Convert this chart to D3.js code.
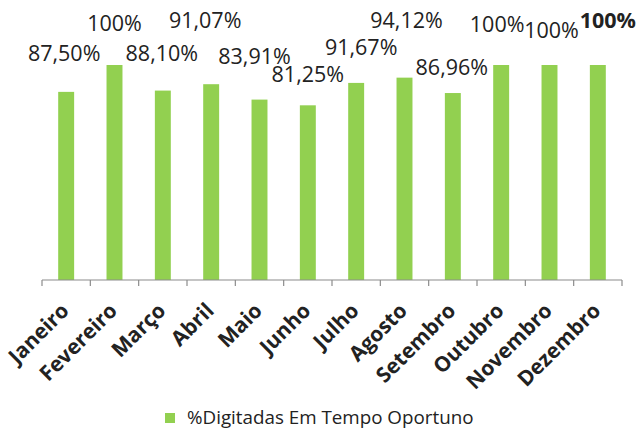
<!DOCTYPE html>
<html>
<head>
<meta charset="utf-8">
<script src="https://cdn.jsdelivr.net/npm/d3@7"></script>
<style>
  body { margin: 0; background: #fff; }
  text { font-family: "Open Sans", "Noto Sans", sans-serif; fill: #222; }
</style>
</head>
<body>
<svg width="639" height="437"></svg>
<script>
// data
var months = ["Janeiro", "Fevereiro", "Março", "Abril", "Maio", "Junho",
              "Julho", "Agosto", "Setembro", "Outubro", "Novembro", "Dezembro"];
var values = [87.50, 100, 88.10, 91.07, 83.91, 81.25, 91.67, 94.12, 86.96, 100, 100, 100];
var valueLabels = ["87,50%", "100%", "88,10%", "91,07%", "83,91%", "81,25%",
                   "91,67%", "94,12%", "86,96%", "100%", "100%", "100%"];
var seriesName = "%Digitadas Em Tempo Oportuno";

// labels were dragged around by hand in the original, so nudge them (px from bar top)
var labelDx = [-2, 0, -1, -6, -5, 0, 5, 2, -1, -4, 2, 10];
var labelDy = [-31, -34, -30, -56, -36, -23, -28, -50, -18, -33, -27, -37];

var svg = d3.select("svg");
var plotLeft = 42, plotRight = 622, plotTop = 65, plotBottom = 280;

var x = d3.scaleBand()
    .domain(months)
    .range([plotLeft, plotRight])
    .paddingInner(0.67)
    .paddingOuter(0.335);

var y = d3.scaleLinear()
    .domain([0, 100])
    .range([plotBottom, plotTop]);

// bars
svg.selectAll(".bar")
    .data(months)
    .enter()
    .append("rect")
    .attr("class", "bar")
    .attr("x", d => x(d))
    .attr("y", (d, i) => y(values[i]))
    .attr("width", x.bandwidth())
    .attr("height", (d, i) => plotBottom - y(values[i]))
    .attr("fill", "#92d050");

// axis line + ticks between the categories
var axis = svg.append("g").attr("transform", `translate(0,${plotBottom})`);
axis.append("line")
    .attr("x1", plotLeft).attr("x2", plotRight)
    .attr("stroke", "#8c8c8c").attr("stroke-width", 1.2);
var edges = months.map(m => x(m) - x.step() * x.paddingOuter()).concat([plotRight]);
axis.selectAll(".tick")
    .data(edges)
    .enter()
    .append("line")
    .attr("x1", d => d).attr("x2", d => d)
    .attr("y1", 0).attr("y2", 6)
    .attr("stroke", "#8c8c8c").attr("stroke-width", 1.2);

// month names, rotated
axis.selectAll(".month")
    .data(months)
    .enter()
    .append("text")
    .attr("class", "month")
    .attr("transform", d => `translate(${x(d) + x.bandwidth() / 2 + 4},${32}) rotate(-45)`)
    .attr("text-anchor", "end")
    .style("font-size", "21px")
    .style("font-weight", "bold")
    .text(d => d);

// value labels
svg.selectAll(".vlabel")
    .data(months)
    .enter()
    .append("text")
    .attr("class", "vlabel")
    .attr("x", (d, i) => x(d) + x.bandwidth() / 2 + labelDx[i])
    .attr("y", (d, i) => y(values[i]) + labelDy[i])
    .attr("text-anchor", "middle")
    .style("font-size", "21.5px")
    .style("font-weight", (d, i) => i === 11 ? "bold" : "normal")
    .text((d, i) => valueLabels[i]);

// legend
var legend = svg.append("g").attr("transform", "translate(165,413)");
legend.append("rect")
    .attr("width", 10).attr("height", 10)
    .attr("fill", "#92d050");
legend.append("text")
    .attr("x", 22).attr("y", 11)
    .style("font-size", "18.8px")
    .text(seriesName);
</script>
</body>
</html>
